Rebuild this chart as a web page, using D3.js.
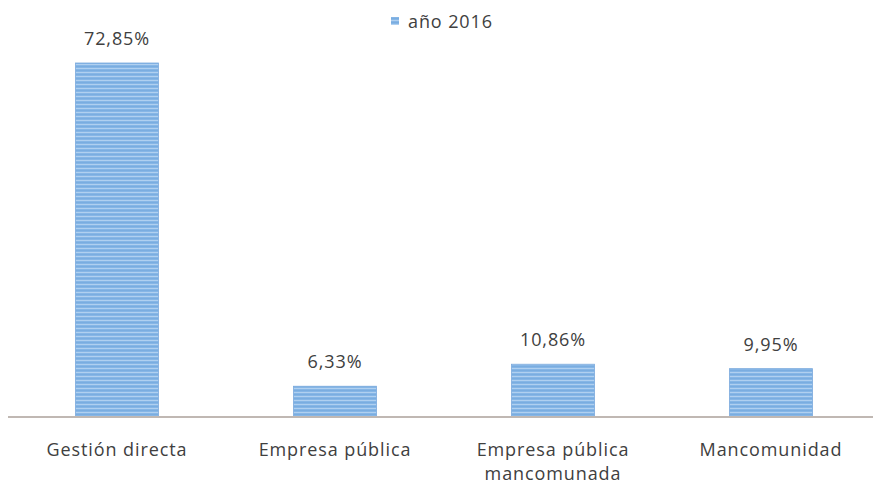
<!DOCTYPE html>
<html>
<head>
<meta charset="utf-8">
<script src="https://cdn.jsdelivr.net/npm/d3@7"></script>
<style>
  body { margin: 0; background: #fff; }
  svg { display: block; font-family: "Open Sans", sans-serif; }
</style>
</head>
<body>
<div id="chart"></div>
<script>
// datos
const categorias = [["Gestión directa"], ["Empresa pública"], ["Empresa pública", "mancomunada"], ["Mancomunidad"]];
const valores = [72.85, 6.33, 10.86, 9.95];
const etiquetas = ["72,85%", "6,33%", "10,86%", "9,95%"];
const serie = "año 2016";

let width = 873, height = 484;
let margin = {left: 8, right: -7, bottom: 67};

const svg = d3.select('#chart')
    .append('svg')
    .attr('width', width)
    .attr('height', height);

// rayas de las barras
let defs = svg.append('defs');
let pat = defs.append('pattern')
    .attr('id', 'rayas')
    .attr('patternUnits', 'userSpaceOnUse')
    .attr('width', 10)
    .attr('height', 4);
pat.append('rect').attr('width', 10).attr('height', 4).attr('fill', '#86b6e6');
pat.append('rect').attr('y', 0).attr('width', 10).attr('height', 1).attr('fill', '#b0d0f0');
pat.append('rect').attr('y', 2).attr('width', 10).attr('height', 1).attr('fill', '#7aade0');

let x = d3.scaleBand()
    .domain(d3.range(valores.length))
    .range([margin.left, width - margin.right])
    .paddingInner(0.62)
    .paddingOuter(0.31);

let y = d3.scaleLinear()
    .domain([0, 72.85])
    .range([height - margin.bottom, 63]);

// barras
svg.selectAll('.bar')
    .data(valores)
    .enter()
    .append('rect')
    .attr('class', 'bar')
    .attr('x', (d, i) => x(i))
    .attr('y', d => y(d))
    .attr('width', x.bandwidth())
    .attr('height', d => y(0) - y(d))
    .attr('fill', 'url(#rayas)')
    .attr('stroke', '#79a8dc')
    .attr('stroke-width', 0.8);

// eje
svg.append('line')
    .attr('x1', margin.left)
    .attr('x2', width)
    .attr('y1', y(0))
    .attr('y2', y(0))
    .attr('stroke', '#c0b8b3')
    .attr('stroke-width', 2);

// valores
svg.selectAll('.valor')
    .data(valores)
    .enter()
    .append('text')
    .attr('class', 'valor')
    .attr('x', (d, i) => x(i) + x.bandwidth() / 2)
    .attr('y', d => y(d) - 18)
    .attr('text-anchor', 'middle')
    .attr('font-size', 18)
    .attr('letter-spacing', 0.9)
    .attr('fill', '#404040')
    .text((d, i) => etiquetas[i]);

// categorias
svg.selectAll('.cat')
    .data(categorias)
    .enter()
    .append('text')
    .attr('class', 'cat')
    .attr('text-anchor', 'middle')
    .attr('font-size', 18)
    .attr('letter-spacing', 0.9)
    .attr('fill', '#404040')
    .each(function(d, i) {
        d3.select(this).selectAll('tspan')
            .data(d)
            .enter()
            .append('tspan')
            .attr('x', x(i) + x.bandwidth() / 2)
            .attr('y', (t, j) => 456 + j * 24)
            .text(t => t);
    });

// leyenda
svg.append('rect')
    .attr('x', 391)
    .attr('y', 17)
    .attr('width', 8)
    .attr('height', 8)
    .attr('fill', 'url(#rayas)');
svg.append('text')
    .attr('x', 408)
    .attr('y', 28)
    .attr('font-size', 18)
    .attr('letter-spacing', 0.9)
    .attr('fill', '#404040')
    .text(serie);
</script>
</body>
</html>
